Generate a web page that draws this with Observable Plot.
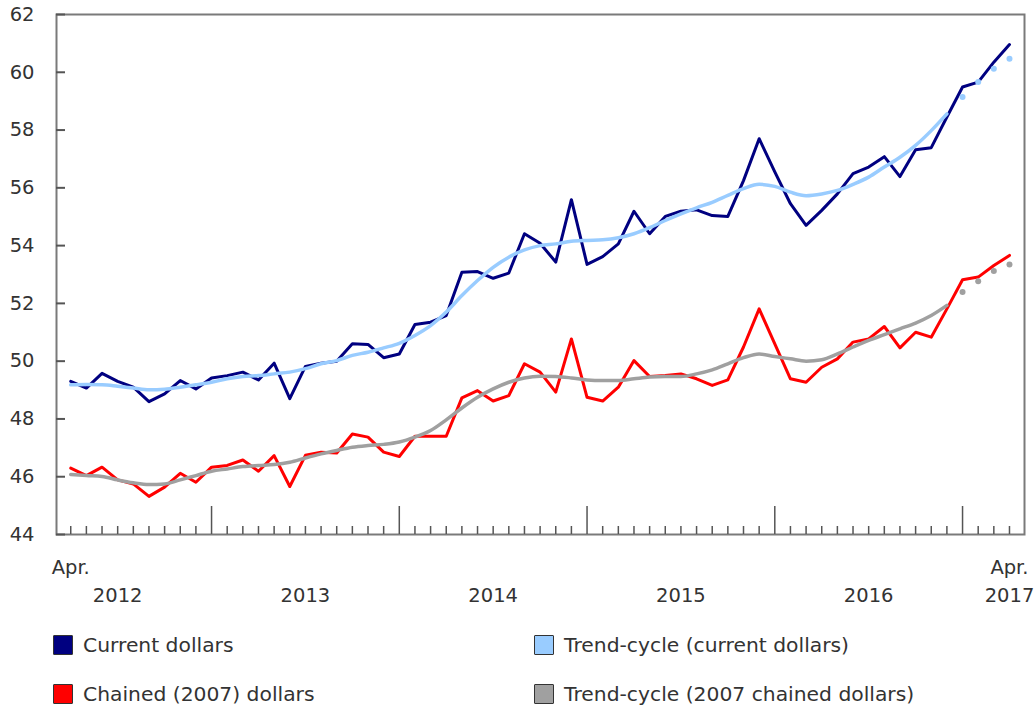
<!DOCTYPE html>
<html>
<head>
<meta charset="utf-8">
<script src="https://cdn.jsdelivr.net/npm/d3@7"></script>
<script src="https://cdn.jsdelivr.net/npm/@observablehq/plot@0.6"></script>
<style>
  html, body { margin: 0; padding: 0; background: #fff; }
  #wrap { position: relative; width: 1034px; height: 706px; font-family: "DejaVu Sans", Verdana, sans-serif; color: #333; }
  .lg { position: absolute; display: flex; align-items: center; font-size: 20.3px; white-space: nowrap; }
  .sw { width: 20px; height: 20px; border: 1.5px solid #333; box-sizing: border-box; margin-right: 10px; border-radius: 1px; }
</style>
</head>
<body>
<div id="wrap"></div>
<script>
// Monthly, April 2012 (index 0) to April 2017 (index 60)
const currentDollars = [
  49.30, 49.07, 49.58, 49.30, 49.10, 48.60, 48.87, 49.33, 49.04, 49.42, 49.50, 49.62,
  49.35, 49.93, 48.70, 49.82, 49.93, 50.00, 50.60, 50.58, 50.12, 50.25, 51.27, 51.35,
  51.58, 53.08, 53.10, 52.87, 53.05, 54.41, 54.08, 53.43, 55.59, 53.35, 53.62, 54.06,
  55.19, 54.41, 55.01, 55.19, 55.24, 55.04, 55.01, 56.25, 57.70, 56.55, 55.45, 54.70,
  55.22, 55.79, 56.49, 56.72, 57.08, 56.39, 57.32, 57.39, 58.45, 59.49, 59.66, 60.35,
  60.96
];
const chainedDollars = [
  46.30, 46.04, 46.33, 45.89, 45.75, 45.32, 45.64, 46.12, 45.81, 46.33, 46.39, 46.58,
  46.19, 46.73, 45.66, 46.74, 46.85, 46.82, 47.48, 47.37, 46.85, 46.70, 47.40, 47.40,
  47.40, 48.73, 48.98, 48.62, 48.81, 49.91, 49.62, 48.93, 50.77, 48.75, 48.62, 49.10,
  50.02, 49.47, 49.50, 49.56, 49.39, 49.16, 49.35, 50.49, 51.81, 50.60, 49.39, 49.27,
  49.79, 50.08, 50.66, 50.77, 51.20, 50.46, 51.00, 50.83, 51.81, 52.82, 52.91, 53.31,
  53.66
];
const trendCurrent = [
  49.18, 49.19, 49.18, 49.13, 49.07, 49.01, 49.03, 49.10, 49.18, 49.27, 49.39, 49.47,
  49.50, 49.56, 49.62, 49.74, 49.91, 50.02, 50.20, 50.31, 50.46, 50.62, 50.89, 51.23,
  51.70, 52.27, 52.79, 53.25, 53.60, 53.85, 54.00, 54.06, 54.15, 54.18, 54.20, 54.27,
  54.41, 54.62, 54.87, 55.10, 55.31, 55.50, 55.74, 55.97, 56.12, 56.05, 55.85, 55.73,
  55.79, 55.91, 56.12, 56.37, 56.72, 57.06, 57.47, 57.98, 58.56, 59.14, 59.66, 60.12,
  60.47
];
const trendChained = [
  46.08, 46.04, 46.01, 45.89, 45.79, 45.73, 45.75, 45.89, 46.04, 46.19, 46.27, 46.35,
  46.39, 46.42, 46.50, 46.65, 46.79, 46.91, 47.02, 47.08, 47.12, 47.20, 47.37, 47.60,
  47.97, 48.38, 48.75, 49.04, 49.27, 49.42, 49.48, 49.47, 49.42, 49.35, 49.33, 49.33,
  49.39, 49.45, 49.47, 49.47, 49.56, 49.70, 49.91, 50.12, 50.25, 50.16, 50.08, 50.00,
  50.05, 50.25, 50.49, 50.72, 50.92, 51.12, 51.32, 51.58, 51.93, 52.39, 52.77, 53.12,
  53.35
];
// first month index of the provisional (dotted) trend-cycle
const provisionalStart = 57;

const yTicks = [44, 46, 48, 50, 52, 54, 56, 58, 60, 62];
const janIndexes = [9, 21, 33, 45, 57];
const yearLabels = ["2012", "2013", "2014", "2015", "2016", "2017"];
const yearLabelIndex = [3, 15, 27, 39, 51, 60];
const monthLabels = ["Apr.", "Apr."];
const monthLabelIndex = [0, 60];

const seriesNames = ["Current dollars", "Trend-cycle (current dollars)", "Chained (2007) dollars", "Trend-cycle (2007 chained dollars)"];
const seriesColors = ["#000080", "#99ccff", "#ff0000", "#a0a0a0"];

const toRows = arr => arr.map((v, i) => ({i, v}));
const months = d3.range(currentDollars.length);
const minorIdx = months.filter(i => !janIndexes.includes(i));

const W = 1034, H = 612, mL = 56, mR = 10, mT = 14, mB = 78;
const innerW = W - mL - mR, innerH = H - mT - mB;

const chart = Plot.plot({
  width: W, height: H,
  marginLeft: mL, marginRight: mR, marginTop: mT, marginBottom: mB,
  x: {domain: [-0.91, 60.96], axis: null},
  y: {domain: [44, 62], axis: null},
  style: {fontFamily: "'DejaVu Sans', Verdana, sans-serif", color: "#333", background: "white", overflow: "visible"},
  marks: [
    Plot.frame({stroke: "#7a7a7a", strokeWidth: 2}),
    Plot.ruleX(minorIdx, {x: d => d, insetTop: innerH - 8, stroke: "#555", strokeWidth: 1.5}),
    Plot.ruleX(janIndexes, {x: d => d, insetTop: innerH - 28, stroke: "#555", strokeWidth: 1.5}),
    Plot.ruleY(yTicks, {y: d => d, insetRight: innerW - 9, stroke: "#555", strokeWidth: 2}),
    Plot.text(yTicks, {y: d => d, text: d => String(d), frameAnchor: "left", textAnchor: "end", dx: -22, fontSize: 19.5, fill: "#333"}),
    Plot.text(yearLabels, {x: (d, k) => yearLabelIndex[k], text: d => d, frameAnchor: "bottom", dy: 67, fontSize: 19.5, fill: "#333"}),
    Plot.text(monthLabels, {x: (d, k) => monthLabelIndex[k], text: d => d, frameAnchor: "bottom", dy: 39, fontSize: 19.5, fill: "#333"}),
    Plot.line(toRows(currentDollars), {x: "i", y: "v", stroke: seriesColors[0], strokeWidth: 3}),
    Plot.line(toRows(chainedDollars), {x: "i", y: "v", stroke: seriesColors[2], strokeWidth: 3}),
    Plot.line(toRows(trendCurrent).filter(d => d.i < provisionalStart), {x: "i", y: "v", stroke: seriesColors[1], strokeWidth: 3.5, curve: "monotone-x"}),
    Plot.dot(toRows(trendCurrent).filter(d => d.i >= provisionalStart), {x: "i", y: "v", r: 3, fill: seriesColors[1]}),
    Plot.line(toRows(trendChained).filter(d => d.i < provisionalStart), {x: "i", y: "v", stroke: seriesColors[3], strokeWidth: 3.5, curve: "monotone-x"}),
    Plot.dot(toRows(trendChained).filter(d => d.i >= provisionalStart), {x: "i", y: "v", r: 3, fill: seriesColors[3]})
  ]
});

const wrap = document.getElementById("wrap");
wrap.appendChild(chart);

const legendPos = [[53, 633], [534, 633], [53, 682], [534, 682]];
seriesNames.forEach((name, k) => {
  const item = document.createElement("div");
  item.className = "lg";
  item.style.left = legendPos[k][0] + "px";
  item.style.top = legendPos[k][1] + "px";
  const sw = document.createElement("span");
  sw.className = "sw";
  sw.style.background = seriesColors[k];
  const tx = document.createElement("span");
  tx.textContent = name;
  item.appendChild(sw);
  item.appendChild(tx);
  wrap.appendChild(item);
});
</script>
</body>
</html>
